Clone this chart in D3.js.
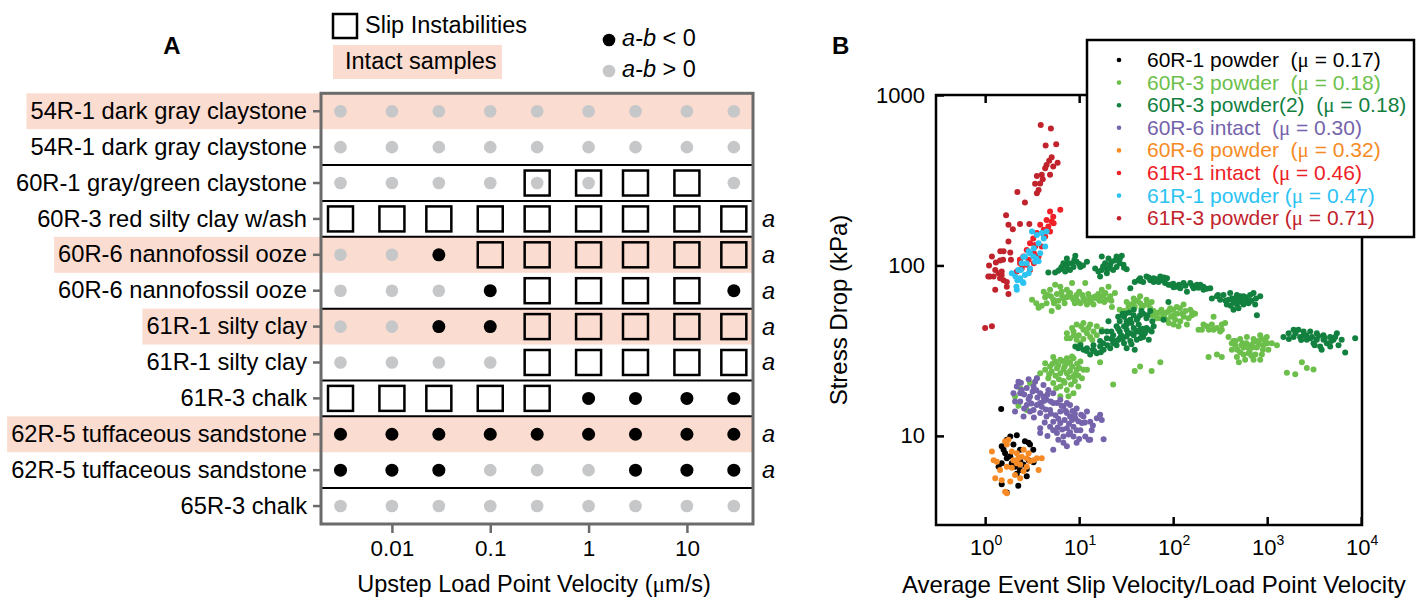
<!DOCTYPE html>
<html>
<head>
<meta charset="utf-8">
<script src="https://cdn.jsdelivr.net/npm/d3@7"></script>
<style>
  body { margin: 0; background: #fff; }
  svg { display: block; }
</style>
</head>
<body>
<script>
// ---------- panel A data ----------
var samples = ["54R-1 dark gray claystone", "54R-1 dark gray claystone", "60R-1 gray/green claystone",
  "60R-3 red silty clay w/ash", "60R-6 nannofossil ooze", "60R-6 nannofossil ooze", "61R-1 silty clay",
  "61R-1 silty clay", "61R-3 chalk", "62R-5 tuffaceous sandstone", "62R-5 tuffaceous sandstone", "65R-3 chalk"];
var intact = [true, false, false, false, true, false, true, false, false, true, false, false];
var groupBreaks = [2, 3, 4, 6, 8, 9, 11];
var velocities = [0.003, 0.01, 0.03, 0.1, 0.3, 1, 3, 10, 30];
var velTicks = [0.01, 0.1, 1, 10];
// "+" a-b > 0, "-" a-b < 0, "S" slip instability, "S+" both
var behaviour = [
  ["+", "+", "+", "+", "+", "+", "+", "+", "+"],
  ["+", "+", "+", "+", "+", "+", "+", "+", "+"],
  ["+", "+", "+", "+", "S+", "S+", "S", "S", "+"],
  ["S", "S", "S", "S", "S", "S", "S", "S", "S"],
  ["+", "+", "-", "S", "S", "S", "S", "S", "S"],
  ["+", "+", "+", "-", "S", "S", "S", "S", "-"],
  ["+", "+", "-", "-", "S", "S", "S", "S", "S"],
  ["+", "+", "+", "+", "S", "S", "S", "S", "S"],
  ["S", "S", "S", "S", "S", "-", "-", "-", "-"],
  ["-", "-", "-", "-", "-", "-", "-", "-", "-"],
  ["-", "-", "-", "+", "+", "+", "-", "-", "-"],
  ["+", "+", "+", "+", "+", "+", "+", "+", "+"]
];
var aNote = [false, false, false, true, true, true, true, true, false, true, true, false];

// ---------- panel B data : [slip velocity ratio, stress drop kPa] ----------
var names = ["60R-1 powder", "60R-3 powder", "60R-3 powder(2)", "60R-6 intact", "60R-6 powder", "61R-1 intact", "61R-1 powder", "61R-3 powder"];
var muVals = ["0.17", "0.18", "0.18", "0.30", "0.32", "0.46", "0.47", "0.71"];
var gaps = ["\u00a0\u00a0", "\u00a0\u00a0", "\u00a0\u00a0", "\u00a0\u00a0", "\u00a0\u00a0", "\u00a0\u00a0", " ", " "];

var p60R1powder = [[1.48,14.4],[1.5,8.7],[1.63,7.9],[1.85,9.9],[2.17,10.1],[2.0,8.9],[2.35,8.3],[2.65,9.3],[3.0,8.9],[3.25,8.3],[2.9,7.2],[2.55,6.8],[2.35,6.3],[2.17,6.0],[1.92,6.9],[1.7,7.4],[1.5,6.9],[1.39,6.6],[2.77,5.8],[1.5,5.2],[2.25,5.1],[1.7,4.65],[2.36,7.2],[2.1,6.6],[1.85,7.6],[2.77,6.4],[3.27,7.0],[1.57,8.3],[1.7,9.5],[2.9,9.1]];

var p60R3powder = [[3.15,63],[3.7,56.5],[4.2,70],[4.9,72],[5.55,77],[6.3,75],[7.4,72],[8.4,79],[9.4,67],[11.1,64],[13.1,63],[15.4,64],[18.2,67],[21.4,66],[24,69],[12.1,59],[10.3,60],[8.7,63],[6.8,64],[5.3,63],[4.5,60],[5.1,54],[6.0,57],[17.4,72],[11.6,79],[20.5,75],[22.3,57],[14.2,59],[7.4,65],[4.35,65],[4.6,67],[5.8,68],[6.5,70],[7.7,67],[9.4,63],[14.2,65],[16.5,62],[18.5,61],[5.0,66],[6.0,62],[8.0,69],[10,70],[12.5,68],[16,68],[19.5,63],[9,60],[7,60],
  [3.5,60],[4.0,58],[5.4,60],[6.6,66],[8.3,65],[9.8,61],[11.5,62],[13.5,61],[15,66],[17,64],[19,69],[22,62],[10.8,67],[12.8,65],
  [27,55],[32,61],[38,64],[44.5,66],[52,63],[59,61],[57,56],[46,56],[39,57],[33.5,57],[30,54],[44.5,60],[52,59],[38,60],[35,59],[42,62],[48,58],[55,60],
  [59,51],[67,49],[79,52],[93,56],[109,57],[129,59],[152,55],[171,52],[146,49],[119,47],[101,45],[86,48],[73,49],[101,51],[124,52],[62,54],[158,51],[114,44],[269,50],[186,42],[85,53],[95,50],[110,52],[135,54],[75,55],[140,45],[105,48],
  [65,51],[70,53],[90,54],[100,55],[118,56],[130,50],[160,53],[90,46],[80,50],
  [7.4,40],[8.4,43],[9.4,45],[11.1,46],[13.1,45],[15.4,44],[17.4,42],[15.4,39],[13.1,38],[11.1,37],[9.4,36.6],[8.0,37.4],[8.7,41],[11.1,42],[14.2,41],[10.3,35],[7.4,37.4],[12.1,40],[9.9,39],[12.5,43],[10.5,44],[13.8,36.5],[8.8,39],
  [4.35,24.4],[4.9,25.5],[5.55,27.3],[6.3,28],[7.4,28.5],[8.7,28.5],[10.3,27.3],[11.1,24.4],[10.7,21.8],[9.8,19.5],[8.7,17.8],[7.4,18.6],[6.3,19.5],[5.3,20.4],[4.7,21.8],[5.1,23.9],[6.3,23.3],[7.4,23.3],[8.7,22.3],[6.8,21],[5.8,24.9],[8.4,25.5],[9.4,24.4],[5.3,29],[12.1,24.4],[7.7,17.1],[6.3,17.1],[2.08,17],[2.26,15.0],[2.77,14.2],[3.0,20.4],[3.55,21.8],[2.36,19.0],[3.85,23.3],[4.35,26.7],[6.0,26],[7.0,25.5],[8.0,24],[9.0,21],[5.6,22.5],[7.0,20.5],[8.2,20],[9.5,26.5],[6.6,27.5],[4.8,23],
  [5.2,26.5],[6.1,21.5],[7.8,22],[9.1,23],[10,25],[8,27],[6.8,24.5],[9.8,22.6],[7.3,26.5],[5.7,19],
  [202,42],[228,44],[258,45],[292,43],[329,45],[357,46],[316,41],[269,42],[240,42],[210,45],[329,42],
  [388,38],[438,36],[516,37],[608,38],[716,37],[843,39],[990,38],[1120,35],[1030,32],[878,30],[716,28],[583,28],[476,29],[421,32],[457,34],[560,33],[659,34],[777,33],[914,34],[633,30.5],[516,31],[1270,34],[843,28],[500,27],[600,35],[700,33],[800,36],[550,35],[650,31],[750,30],[950,36],[480,32],[880,37],
  [420,35],[530,34],[620,33],[720,35.5],[820,34.5],[900,32],[1000,35],[680,29.5],[560,30],[460,36],
  [23,20],[39,24],[44.5,25.5],[59,24],[73,27],[238,29],[292,30],[329,29],[1620,23.5],[1990,23],[2340,27],[2640,25],[3110,24.5],[16.7,27],[8.4,29.2]];

var p60R3powder2 = [[4.7,91],[5.55,91],[6.3,95],[7.4,98],[8.4,103],[9.4,105],[9.1,114],[7.4,110],[6.8,103],[10.3,98],[12.1,105],[8.0,94],[7.1,92],[8.7,98],[7.7,103],[6.5,98],
  [14.8,96],[17.4,113],[20.5,110],[25,113],[28.4,114],[27,103],[32,95],[23,94],[19.7,90],[16.7,86],[17.4,94],[21.4,101],[25,98],[29.6,101],[18.9,103],[22,105],[19.7,96],
  [6,93],[8.9,108],[10,102],[11,100],[16,92],[18,99],[21,96],[24,107],[27,109],[30,97],
  [39,80],[44.5,84],[52,86],[62,84],[73,86],[86,84],[82,79],[62,80],[48,80],[42.7,82],[57,82],[76,82],[89,77],
  [45,81],[55,85],[66,83],[70,80],[80,85],[100,78],[115,77],[135,76],[160,76],[185,74],[210,72],
  [93,77],[109,75],[129,79],[152,79],[179,77],[210,75],[248,73.5],[140,70],[119,73.5],[101,74.5],[165,73.5],[194,77],[228,73],[35,73.5],
  [258,64],[292,66],[343,67],[404,69],[476,67],[560,66],[659,67],[716,69],[843,66],[438,61],[372,59],[476,59],[537,61],[438,55],[608,63],[777,51],[745,59],[316,63],[421,64],[495,56],[388,63],[516,66],[633,60],[560,59],
  [300,67],[360,62],[450,64],[520,63],[590,65],[680,62],[760,64],[410,58],[480,62],[550,64],
  [26,50],[31,52],[38,55],[46,54],[57,54],[52,49],[41,48],[32,47],[27,47],[38,51],[44.5,51],[30,50],[35,48],
  [9.1,33.4],[10.3,34],[12.1,32.7],[14.2,34],[16.7,36],[19.7,37.4],[23,39],[27,41],[32,42],[38,43],[44.5,42],[52,43],[59,41],[48,38],[41,36.6],[35,36],[30,35],[25,34],[21.4,32.7],[18.2,32],[15.4,30.5],[13.1,30],[19.7,41],[25,44],[32,45],[43,45],[27,37.4],[38,39],[17.4,41],[20.5,47],[32,32.7],[39,32],[55,36.6],[11.1,32],[9.8,32.7],[16.7,33.4],[23,35],[32,38.3],[46,40],[62,44],[28,39],[35,40],[42,41],[50,40],[22,37],[26,36.5],[18,35],[14,32],[45,37.5],[36,34.5],
  [12,31.5],[14.5,31.5],[17,31],[20,34],[24,36],[29,37],[33,40],[40,41.5],[48,42.5],[55,42],[26,42.5],[22,41],[30,44],[36,46],[42,49],[48,52],[34,53],[29,52],[53,51],[60,47],
  [89,61],[79,48],
  [1490,38],[1690,40],[1910,42],[2150,42],[2440,41],[2870,41],[3370,40],[3970,39],[4680,38],[5510,40],[5080,36.6],[4310,35],[3660,33.4],[3110,35],[2640,36.6],[2240,38],[2870,37.4],[3970,36.6],[5740,34],[6760,30.8],[8630,37.4],[4680,33.4],[3370,36.6],[2440,39],[3800,32],[6200,36.6],[1910,38],
  [1700,37],[2000,40],[2300,36.5],[2600,39],[3000,38],[3500,38.5],[4100,37.5],[4800,36],[5300,38],[3200,34]];

var p60R6intact = [[2.17,19.5],[2.36,17.8],[2.77,19.1],[3.4,20.8],[3.55,21.8],[4.17,19.9],[4.7,18.6],[5.3,17.8],[5.8,15.6],[6.8,14.9],[8.0,15.2],[9.4,14.5],[11.1,13.0],[13.1,12.1],[15.4,12.7],[16.7,13.3],[17.4,12.4],[18.2,9.55],[13.1,9.5],[11.6,9.9],[10.3,10.8],[8.7,11.3],[7.4,11.1],[6.3,11.9],[5.3,12.1],[4.5,13.0],[3.85,13.6],[3.27,14.2],[2.77,15.2],[2.36,15.9],[2.08,13.9],[2.56,13.0],[3.0,13.9],[3.85,15.6],[4.5,16.3],[6.3,16.3],[8.0,13.0],[9.4,10.8],[6.8,9.9],[5.8,10.4],[5.3,8.3],[4.17,17.0],[3.0,17.0],[2.45,18.6],[4.9,14.2],[3.55,15.2],[7.4,13.6],[9.1,12.7],[10.7,11.9],[12.1,13.9],[6.3,13.9],[4.9,11.3],[3.85,11.1],[13.6,10.8],[2.08,15.9],[2.0,17.8],[2.26,20.8],[3.27,19.5],[3.85,17.8],[5.3,15.6],[7.4,15.6],[8.7,9.9],[9.4,9.1],[6.8,9.1],[7.4,8.7],[12.6,9.5],[3.85,10.4],[5.3,10.8],
  [2.6,17.5],[2.9,16.4],[3.2,18.2],[3.6,16.8],[4.0,14.8],[4.4,14.3],[5.0,15.9],[5.6,13.2],[6.0,12.6],[7.0,12.4],[7.8,11.8],[8.4,12.4],[9.8,12.2],[10.5,13.3],[5.9,11.2],[6.6,10.9],[7.7,10.2],[4.3,12.0],[3.3,12.8],[2.6,14.5],[3.1,15.5],[4.6,17.5],[2.4,20.5],[2.9,21.5],[8.5,14.0],
  [3.5,18.5],[4.2,16],[5.0,13.5],[6.5,15],[7.2,14],[9,13.5],[11.5,12],[14,11.5],[8,10.5],[10,9.6],[6,9.5],[4.6,10]];

var p60R6powder = [[1.18,8.1],[1.23,7.2],[1.28,5.65],[1.5,5.5],[1.63,9.3],[1.77,9.5],[1.7,6.6],[1.92,6.5],[2.0,7.2],[2.17,7.9],[2.26,7.4],[2.36,6.8],[2.56,6.2],[2.77,6.6],[3.0,7.1],[3.27,7.2],[3.55,7.4],[4.0,7.4],[3.7,6.3],[2.36,5.65],[2.08,5.9],[1.85,5.4],[1.7,4.6],[1.63,4.7],[1.92,8.1],[2.56,8.3],[2.9,7.9],[2.17,6.9],[2.45,7.55],[1.44,6.3],[1.33,7.05],[2.77,7.4],[1.7,8.9]];

var p61R1intact = [[4.9,207],[6.3,212],[5.3,193],[5.1,181],[4.7,169],[4.2,162],[3.85,173],[3.55,155],[3.25,144],[3.0,135],[2.77,123],[2.55,113],[2.35,108],[2.45,96],[2.75,101],[3.3,103],[3.7,113],[4.0,129],[4.35,148],[4.9,158],[5.35,177],[4.5,185],[3.4,129],[2.9,108],[2.35,103],[3.0,94],[2.17,92],[3.4,132],[4.2,151],[3.3,118]];

var p61R1powder = [[3.15,158],[3.55,151],[4.0,155],[4.5,158],[4.2,144],[3.7,135],[3.3,126],[2.9,121],[2.65,113],[2.45,103],[2.25,94],[2.1,86],[2.35,84],[2.65,88],[3.0,96],[3.4,105],[3.85,118],[4.35,129],[2.75,103],[3.25,113],[2.55,79],[2.15,75],[2.4,94],[2.2,82],[2.5,80],[2.9,90],[2.17,72],[3.5,110],[3.7,106],[2.55,112],[3.0,118],[1.92,90]];

var p61R3powder = [[3.9,667],[5.0,637],[4.4,505],[5.7,514],[5.1,431],[4.8,412],[5.9,401],[4.5,388],[5.3,380],[4.35,372],[4.9,340],[4.0,340],[3.55,335],[4.1,320],[3.4,301],[3.85,303],[3.7,277],[3.55,265],[2.2,270],[2.65,234],[1.67,197],[1.77,173],[1.97,163],[2.35,175],[2.95,175],[1.77,138],[1.18,113],[1.45,121],[1.55,108],[1.88,108],[2.35,108],[1.08,86],[1.23,86],[1.39,90],[1.5,88],[1.57,82],[1.28,94],[1.44,107],[1.13,86],[1.5,92],[1.44,84],[1.7,80],[1.28,72],[1.77,68],[1.7,75],[1.0,43],[1.18,44],[1.85,119],[1.57,121],[1.1,100],[1.3,104]];

var pointSets = [p60R1powder, p60R3powder, p60R3powder2, p60R6intact, p60R6powder, p61R1intact, p61R1powder, p61R3powder];
var colors = ["#000000", "#6cbf4b", "#12803f", "#7563ab", "#f68b26", "#ed2127", "#2cc3f2", "#c1232c"];
var drawOrder = [1, 2, 3, 0, 4, 7, 5, 6];
var xTicksB = [1, 10, 100, 1000, 10000];
var yTicksB = [10, 100, 1000];

var FONT = '"Liberation Sans", Arial, Helvetica, sans-serif';
var SERIF = '"Liberation Serif", "DejaVu Serif", serif';
var PINK = "#fbdcd0";
var GRAY = "#c6c7c8";
var FRAME = "#6b6b6b";

var svg = d3.select("body").append("svg")
  .attr("width", 1425)
  .attr("height", 601)
  .attr("font-family", FONT);

var bg = svg.append("g");

// ================= panel A =================
var xA = d3.scaleLog().domain([0.0019, 47]).range([321, 753]);
var yA = d3.scaleBand().domain(d3.range(samples.length)).range([93.3, 524]);
var bw = yA.bandwidth();

svg.append("text").attr("x", 172).attr("y", 54).attr("text-anchor", "middle")
  .attr("font-size", 24).attr("font-weight", "bold").text("A");

// legend on top
svg.append("rect").attr("x", 333).attr("y", 14).attr("width", 24).attr("height", 24)
  .attr("fill", "none").attr("stroke", "#000").attr("stroke-width", 2.5);
svg.append("text").attr("x", 365).attr("y", 33).attr("font-size", 23.5).text("Slip Instabilities");
svg.append("rect").attr("x", 333).attr("y", 45).attr("width", 169).attr("height", 34).attr("fill", PINK);
svg.append("text").attr("x", 345).attr("y", 69).attr("font-size", 23.5).text("Intact samples");

[["#000", 40, 46, "< 0"], [GRAY, 71, 77, "> 0"]].forEach(function (l) {
  svg.append("circle").attr("cx", 609).attr("cy", l[1]).attr("r", 6.3).attr("fill", l[0]);
  var t = svg.append("text").attr("x", 622).attr("y", l[2]).attr("font-size", 23.5);
  t.append("tspan").attr("font-style", "italic").text("a-b");
  t.append("tspan").text(" " + l[3]);
});

// row labels
var rowAxis = svg.append("g")
  .attr("transform", "translate(321,0)")
  .call(d3.axisLeft(yA).tickSize(8).tickPadding(6).tickFormat(function (i) { return samples[i]; }));
rowAxis.attr("font-family", FONT).attr("font-size", 23.7);
rowAxis.select(".domain").remove();
rowAxis.selectAll(".tick line").attr("stroke", FRAME).attr("stroke-width", 2.5);
rowAxis.selectAll(".tick text").attr("fill", "#000");

// pink bands behind intact rows
rowAxis.selectAll(".tick text").each(function (i) {
  if (!intact[i]) return;
  var b = this.getBBox();
  bg.append("rect")
    .attr("x", 321 + b.x - 4)
    .attr("y", yA(i))
    .attr("width", 753 - (321 + b.x - 4))
    .attr("height", bw)
    .attr("fill", PINK);
});

// group separators
svg.selectAll(".sep").data(groupBreaks).enter().append("line")
  .attr("x1", 321).attr("x2", 753)
  .attr("y1", function (d) { return yA(d); })
  .attr("y2", function (d) { return yA(d); })
  .attr("stroke", "#000").attr("stroke-width", 2);

// cells
behaviour.forEach(function (row, r) {
  var cy = yA(r) + bw / 2;
  row.forEach(function (code, c) {
    var cx = xA(velocities[c]);
    if (code.indexOf("S") >= 0) {
      svg.append("rect").attr("x", cx - 12.5).attr("y", cy - 12.5).attr("width", 25).attr("height", 25)
        .attr("fill", "none").attr("stroke", "#000").attr("stroke-width", 2.5);
    }
    if (code.indexOf("+") >= 0) {
      svg.append("circle").attr("cx", cx).attr("cy", cy).attr("r", 6.3).attr("fill", GRAY);
    }
    if (code.indexOf("-") >= 0) {
      svg.append("circle").attr("cx", cx).attr("cy", cy).attr("r", 6.5).attr("fill", "#000");
    }
  });
  if (aNote[r]) {
    svg.append("text").attr("x", 762).attr("y", cy + 8).attr("font-size", 23.5)
      .attr("font-style", "italic").text("a");
  }
});

// frame
svg.append("rect").attr("x", 321).attr("y", 93.3).attr("width", 432).attr("height", 430.7)
  .attr("fill", "none").attr("stroke", FRAME).attr("stroke-width", 3);

// x axis A
var axA = svg.append("g")
  .attr("transform", "translate(0,524)")
  .call(d3.axisBottom(xA).tickValues(velTicks).tickSize(9).tickPadding(7)
    .tickFormat(function (d) { return String(d); }));
axA.attr("font-family", FONT).attr("font-size", 22.5);
axA.select(".domain").remove();
axA.selectAll(".tick line").attr("stroke", FRAME).attr("stroke-width", 2.5);
axA.selectAll(".tick text").attr("fill", "#000");

var tA = svg.append("text").attr("x", 534).attr("y", 592).attr("text-anchor", "middle").attr("font-size", 23.5);
tA.append("tspan").text("Upstep Load Point Velocity (");
tA.append("tspan").attr("font-family", SERIF).text("\u03bc");
tA.append("tspan").text("m/s)");

// ================= panel B =================
var xB = d3.scaleLog().domain([0.3, 10200]).range([936, 1362]);
var yB = d3.scaleLog().domain([3, 1000]).range([525, 95]);

svg.append("text").attr("x", 832).attr("y", 54).attr("font-size", 24).attr("font-weight", "bold").text("B");

drawOrder.forEach(function (k) {
  svg.append("g").selectAll("circle").data(pointSets[k]).enter().append("circle")
    .attr("cx", function (d) { return xB(d[0]); })
    .attr("cy", function (d) { return yB(d[1]); })
    .attr("r", 3)
    .attr("fill", colors[k]);
});

var bAx = svg.append("g").attr("transform", "translate(0,525)")
  .call(d3.axisBottom(xB).tickValues(xTicksB).tickSize(-8).tickFormat(""));
var tAx = svg.append("g").attr("transform", "translate(0,95)")
  .call(d3.axisTop(xB).tickValues(xTicksB).tickSize(-8).tickFormat(""));
var lAx = svg.append("g").attr("transform", "translate(936,0)")
  .call(d3.axisLeft(yB).tickValues(yTicksB).tickSize(-8).tickPadding(11).tickFormat(d3.format("d")));
[bAx, tAx, lAx].forEach(function (g) {
  g.select(".domain").remove();
  g.selectAll(".tick line").attr("stroke", "#000").attr("stroke-width", 2.5);
});
lAx.attr("font-family", FONT).attr("font-size", 22);
lAx.selectAll(".tick text").attr("fill", "#000");

svg.append("rect").attr("x", 936).attr("y", 95).attr("width", 426).attr("height", 430)
  .attr("fill", "none").attr("stroke", "#000").attr("stroke-width", 2.5);

// x tick labels 10^n
xTicksB.forEach(function (v) {
  var t = svg.append("text").attr("x", xB(v) + 1).attr("y", 555).attr("text-anchor", "middle").attr("font-size", 22);
  t.append("tspan").text("10");
  t.append("tspan").attr("font-size", 14).attr("dy", -10).text(Math.round(Math.log10(v)));
});

svg.append("text").attr("x", 902).attr("y", 593).attr("font-size", 24)
  .text("Average Event Slip Velocity/Load Point Velocity");
svg.append("text").attr("transform", "translate(847,310) rotate(-90)").attr("text-anchor", "middle")
  .attr("font-size", 24).text("Stress Drop (kPa)");

// legend B
var legB = svg.append("g");
legB.append("rect").attr("x", 1087).attr("y", 40).attr("width", 327).attr("height", 197)
  .attr("fill", "#fff").attr("stroke", "#000").attr("stroke-width", 2.5);
names.forEach(function (n, i) {
  var y = 60 + i * 22.6;
  legB.append("circle").attr("cx", 1119).attr("cy", y).attr("r", 2.3).attr("fill", colors[i]);
  var t = legB.append("text").attr("x", 1147).attr("y", y + 7).attr("font-size", 21).attr("fill", colors[i]);
  t.append("tspan").text(n + gaps[i] + "(");
  t.append("tspan").attr("font-family", SERIF).text("\u03bc");
  t.append("tspan").text(" = " + muVals[i] + ")");
});
</script>
</body>
</html>
